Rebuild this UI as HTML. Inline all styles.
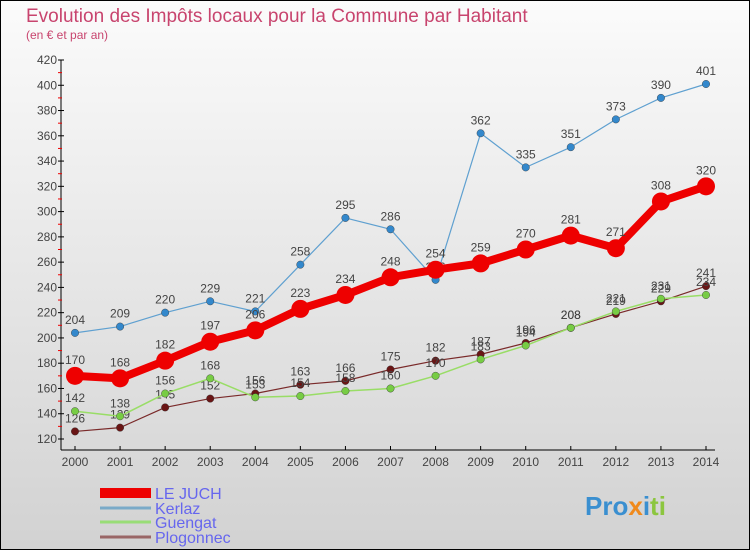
<!DOCTYPE html>
<html><head><meta charset="utf-8"><style>
body{margin:0;}
svg{display:block;font-family:"Liberation Sans",sans-serif;}
</style></head><body>
<svg id="c" width="750" height="550" xmlns="http://www.w3.org/2000/svg">
<defs><linearGradient id="bg" x1="0" y1="0" x2="0" y2="1"><stop offset="0" stop-color="#fbfbfb"/><stop offset="1" stop-color="#d2d2d2"/></linearGradient></defs>
<rect x="0.5" y="0.5" width="749" height="549" fill="url(#bg)" stroke="#000"/>
<text x="26" y="22" font-size="19" fill="#c8446e">Evolution des Impôts locaux pour la Commune par Habitant</text>
<text x="26" y="39" font-size="12" fill="#c8446e">(en € et par an)</text>
<g id="axes"></g><g id="series"></g><g id="legend"></g>
<text x="585" y="515" font-size="26" font-weight="bold"><tspan fill="#3a8fd0">Pro</tspan><tspan fill="#f08a1c">x</tspan><tspan fill="#3a8fd0">i</tspan><tspan fill="#8cc63f">ti</tspan></text>
</svg>
<script>
const years=[2000,2001,2002,2003,2004,2005,2006,2007,2008,2009,2010,2011,2012,2013,2014];
const yTicks=[120,140,160,180,200,220,240,260,280,300,320,340,360,380,400,420];
const seriesNames=["LE JUCH","Kerlaz","Guengat","Plogonnec"];
const leJuch=[170,168,182,197,206,223,234,248,254,259,270,281,271,308,320];
const kerlaz=[204,209,220,229,221,258,295,286,246,362,335,351,373,390,401];
const guengat=[142,138,156,168,153,154,158,160,170,183,194,208,221,231,234];
const plogonnec=[126,129,145,152,156,163,166,175,182,187,196,208,219,229,241];
const NS="http://www.w3.org/2000/svg";
const xs=i=>75+i*(706-75)/(years.length-1);
const ys=v=>439-(v-120)*(439-60)/300;
function mk(t,a,p){const e=document.createElementNS(NS,t);for(const k in a)e.setAttribute(k,a[k]);p.appendChild(e);return e;}
const ax=document.getElementById('axes');
let l=mk('line',{x1:61,y1:60,x2:61,y2:450,stroke:'#000'},ax);


l=mk('line',{x1:61,y1:450,x2:715,y2:450,stroke:'#000'},ax);


yTicks.forEach((v,i)=>{const y=ys(v);mk('line',{x1:58,y1:y,x2:64,y2:y,stroke:'#000'},ax);
 if(i<yTicks.length-1)mk('line',{x1:58,y1:ys(v+10),x2:62,y2:ys(v+10),stroke:'#e00'},ax);
 const t=mk('text',{x:57,y:y+4,'font-size':12,'text-anchor':'end',fill:'#444'},ax);t.textContent=v;
 
 });
years.forEach((yr,i)=>{const x=xs(i);mk('line',{x1:x,y1:446,x2:x,y2:450,stroke:'#000'},ax);
 const t=mk('text',{x:x,y:466,'font-size':12,'text-anchor':'middle',fill:'#444'},ax);t.textContent=yr;
 
 });
const sg=document.getElementById('series');
const defs=[[plogonnec,'#7a2a2a','#6a1515',1.2,4.5],[guengat,'#99dd66','#77cc44',1.5,4.5],[kerlaz,'#5fa0d0','#3388cc',1.2,4.5],[leJuch,'#ee0000','#ee0000',8,9]];
const names=['plogonnec','guengat','kerlaz','le-juch'];
defs.forEach((d,k)=>{const g=mk('g',{},sg);
 
 
 const pts=d[0].map((v,i)=>xs(i)+','+ys(v)).join(' ');
 mk('polyline',{points:pts,fill:'none',stroke:d[1],'stroke-width':d[3],'stroke-linejoin':'round'},g);
 d[0].forEach((v,i)=>{const c=mk('circle',{cx:xs(i),cy:ys(v),r:d[4]/ (k==3?1:1.2),fill:d[2],stroke:k==3?'none':'#333','stroke-width':0.4},g);
  
  
  const t=mk('text',{x:xs(i),y:ys(v)-(k==3?12:9),'font-size':12,'text-anchor':'middle',fill:'#444'},g);t.textContent=v;});
});
const lg=document.getElementById('legend');
const lc=['#ee0000','#7aaac8','#99dd77','#996666'],lw=[10,3,3,3],ly=[493,508,522,537];
seriesNames.forEach((n,i)=>{const g=mk('g',{},lg);
 
 
 mk('line',{x1:100,y1:ly[i],x2:151,y2:ly[i],stroke:lc[i],'stroke-width':lw[i]},g);
 const t=mk('text',{x:155,y:ly[i]+6,'font-size':16,fill:'#6666ee'},g);t.textContent=n;});
</script>
</body></html>
